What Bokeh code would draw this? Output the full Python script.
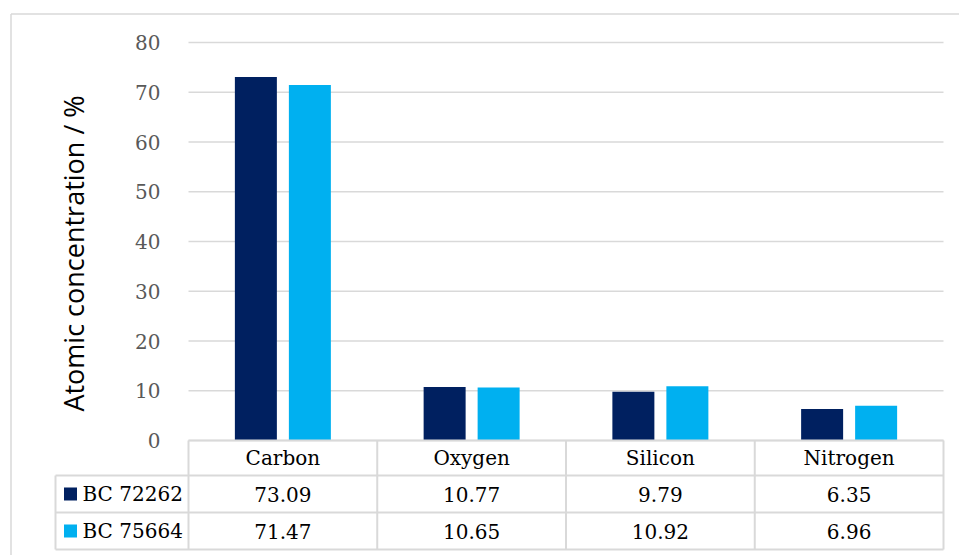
import math
from bokeh.plotting import figure
from bokeh.models import Range1d, LinearAxis, FixedTicker, Label
from bokeh.core.properties import value
from bokeh.embed import file_html
from bokeh.resources import INLINE

# ---- data ----
categories = ["Carbon", "Oxygen", "Silicon", "Nitrogen"]
series_names = ["BC 72262", "BC 75664"]
bc72262 = [73.09, 10.77, 9.79, 6.35]
bc75664 = [71.47, 10.65, 10.92, 6.96]
y_ticks = [0, 10, 20, 30, 40, 50, 60, 70, 80]
colors = ["#002060", "#00B0F0"]

# ---- layout (pixels) ----
W, H = 959, 555
FRAME_L, FRAME_R, FRAME_T, FRAME_B = 8, 959, 11, 555
X0_PX, X4_PX = 188, 943          # category area left/right
Y0_PX, Y80_PX = 440, 42          # value 0 / value 80
ppx = (X4_PX - X0_PX) / len(categories)   # px per category
ppy = (Y0_PX - Y80_PX) / 80.0             # px per value unit

def xd(px):
    return (px - X0_PX) / ppx

def yd(px):
    return (Y0_PX - px) / ppy

SERIF = "DejaVu Serif"
SANS = "Open Sans"
GRID = "#d9d9d9"

p = figure(width=W, height=H, output_backend="svg", toolbar_location=None,
           x_axis_type=None, y_axis_type=None,
           x_range=Range1d(xd(FRAME_L), xd(FRAME_R)),
           y_range=Range1d(yd(FRAME_B), yd(FRAME_T)),
           min_border_left=FRAME_L, min_border_right=W - FRAME_R,
           min_border_top=FRAME_T, min_border_bottom=H - FRAME_B)
p.outline_line_color = None
p.background_fill_color = "white"
p.border_fill_color = "white"
p.xgrid.visible = False
p.ygrid.visible = False

# y axis placed at the left edge of the category area
yax = LinearAxis(ticker=FixedTicker(ticks=y_ticks), fixed_location=0)
yax.axis_line_color = None
yax.major_tick_line_color = None
yax.minor_tick_line_color = None
yax.major_label_text_font = SERIF
yax.major_label_text_font_size = "20px"
yax.major_label_text_color = "#595959"
yax.major_label_standoff = 22
p.add_layout(yax, "left")

n = len(categories)
# chart-area border (left and top edges visible)
p.segment(x0=[xd(10.5), xd(10.5)], x1=[xd(10.5), xd(W + 20)],
          y0=[yd(13.5), yd(13.5)], y1=[yd(H + 20), yd(13.5)],
          line_color=GRID, line_width=1.5)

# gridlines
p.segment(x0=[0] * len(y_ticks), x1=[n] * len(y_ticks), y0=y_ticks, y1=y_ticks,
          line_color=GRID, line_width=1.5)

# bars
bar_w = 42 / ppx
off = 27 / ppx
centers = [i + 0.5 for i in range(n)]
for k, (vals, col) in enumerate(zip([bc72262, bc75664], colors)):
    xs = [c + (-off if k == 0 else off) for c in centers]
    p.vbar(x=xs, top=vals, bottom=0, width=bar_w, fill_color=col, line_color=None)

# data table
row_px = [Y0_PX, 475, 512, 549]
row_y = [yd(r) for r in row_px]
left_x = xd(55)
tbl = dict(line_color=GRID, line_width=2)
p.segment(x0=[0, left_x, left_x, left_x], x1=[n] * 4, y0=row_y, y1=row_y, **tbl)
p.segment(x0=list(range(n + 1)), x1=list(range(n + 1)),
          y0=[row_y[0]] * (n + 1), y1=[row_y[3]] * (n + 1), **tbl)
p.segment(x0=[left_x], x1=[left_x], y0=[row_y[1]], y1=[row_y[3]], **tbl)

# header
hy = (row_y[0] + row_y[1]) / 2
p.text(x=centers, y=[hy] * n, text=categories, text_font=value(SERIF),
       text_font_size="20px", text_align="center", text_baseline="middle", text_color="black")
# value rows with legend keys
for r, vals in enumerate([bc72262, bc75664]):
    ry = (row_y[r + 1] + row_y[r + 2]) / 2
    p.text(x=centers, y=[ry] * n, text=[f"{v:.2f}" for v in vals], text_font=value(SERIF),
           text_font_size="20px", text_align="center", text_baseline="middle", text_color="black")
    p.scatter(x=[xd(70)], y=[ry], marker="square", size=13, fill_color=colors[r], line_color=None)
    p.text(x=[xd(82)], y=[ry], text=[series_names[r]], text_font=value(SERIF),
           text_font_size="20px", text_align="left", text_baseline="middle", text_color="black")

# axis title
p.add_layout(Label(x=xd(73), y=yd(253), text="Atomic concentration / %", angle=math.pi / 2,
                   text_font=SANS, text_font_size="27px", text_color="black",
                   text_align="center", text_baseline="middle"))

open("out.html", "w").write(file_html(p, INLINE))
